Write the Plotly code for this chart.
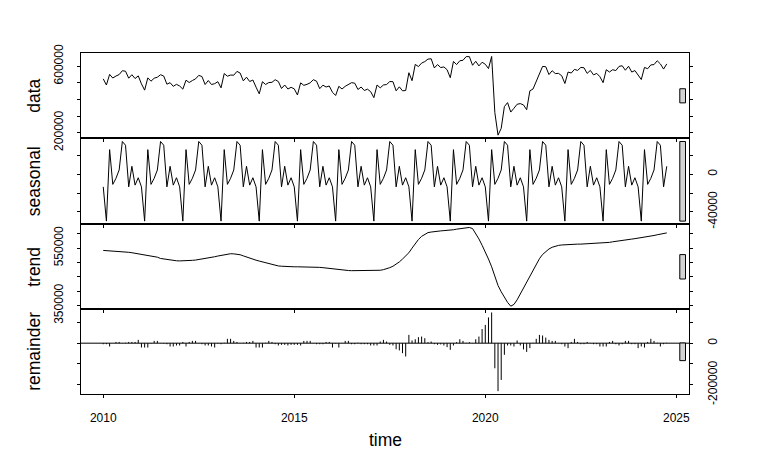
import numpy as np
import plotly.graph_objects as go
from plotly.subplots import make_subplots

# monthly series starting Jan 2010, values in thousands
start_year = 2010

data_k = [
    524, 487, 551, 529, 541, 550, 573, 570, 528, 549, 526, 542,
    494, 456, 530, 510, 528, 534, 549, 541, 492, 501, 479, 491,
    481, 462, 516, 502, 514, 524, 545, 538, 490, 514, 490, 495,
    507, 470, 556, 540, 547, 546, 569, 559, 512, 534, 508, 517,
    474, 434, 507, 490, 502, 503, 519, 508, 466, 487, 463, 473,
    464, 427, 500, 485, 491, 500, 519, 510, 465, 486, 475, 481,
    443, 424, 479, 463, 479, 488, 501, 498, 460, 475, 454, 462,
    447, 411, 487, 470, 487, 490, 508, 507, 452, 476, 452, 454,
    561, 513, 611, 598, 619, 628, 643, 645, 590, 610, 592, 596,
    579, 531, 629, 610, 633, 636, 658, 658, 606, 630, 602, 624,
    612, 586, 659, 321, 185, 226, 357, 381, 324, 347, 371, 375,
    367, 338, 452, 463, 511, 558, 599, 597, 550, 573, 556, 557,
    543, 496, 565, 559, 581, 575, 593, 591, 557, 575, 548, 557,
    537, 501, 579, 565, 579, 574, 599, 603, 576, 600, 565, 574,
    547, 520, 593, 585, 608, 610, 633, 614, 583, 614,
]

# periodic seasonal component, Jan..Dec
season_pattern_k = [-13.4, -50, 26.3, -10.8, -4.3, 4.6, 35, 31, -13.4, 8.5, -11.6, -3.7]

trend_k = [
    542, 541.5, 541, 540, 539.5, 539, 538, 537, 535.5, 534, 532, 530,
    528.5, 527, 525, 523, 521, 518.5, 514, 512, 510, 508.5, 507, 506,
    505.5, 505.5, 506, 506.5, 507.5, 508.5, 510, 512, 514, 516, 518, 520,
    522.5, 525, 527.5, 530, 530.5, 530, 529, 527, 523, 519, 514, 510,
    508, 505, 502, 498.5, 495, 492, 489.5, 488, 487, 486, 485.5, 485,
    485, 485, 485, 485, 484.5, 484, 484, 483.5, 483, 482, 480.5, 479,
    477, 475.5, 474, 473, 472, 472, 471.5, 471.5, 471, 471, 471, 471,
    471, 471.5, 472, 473, 475, 477.5, 482, 487, 494, 502, 512, 522,
    534, 550, 566, 580, 591, 599, 604, 606, 608, 609, 610, 611,
    611.5, 612.5, 614, 616, 618, 620, 621, 622, 618, 602, 582, 560,
    537, 512, 485, 453, 420, 398, 378, 361, 348, 354, 370, 390,
    410, 430, 450, 472, 494, 513, 528, 539, 547, 553, 557, 559.5,
    561, 562, 563, 563.5, 564, 564, 564, 564.5, 564.5, 565, 565, 565.5,
    566, 567, 568.5, 570, 572, 574, 575.5, 577, 578.5, 580, 581.5, 583,
    584.5, 586, 588, 589.5, 591.5, 594, 596.5, 599, 601, 603,
]

remainder_k = [
    -5, -5, -16, 0, 6, 6, 1, 2, 6, 6, 6, 16,
    -21, -21, -21, -2, 11, 11, 1, -2, -5, -16, -16, -11,
    -11, 6, -16, 6, 11, 11, 1, -5, -11, -11, -16, -21,
    -2, -5, 2, 21, 21, 11, 6, 1, 2, 6, 6, 11,
    -21, -21, -21, 2, 11, 6, -5, -11, -8, -8, -11, -8,
    -8, -8, -11, 11, 11, 11, 1, -5, -5, -5, 6, 6,
    -21, -2, -21, 1, 11, 11, -5, -5, 2, -5, -5, -5,
    -11, -11, -11, 8, 16, 8, -8, -11, -29, -35, -48, -64,
    40, 13, 19, 29, 32, 24, 5, 8, -5, -8, -6, -11,
    -19, -32, -11, 5, 19, 11, 2, 5, 1, 19, 32, 68,
    88, 124, 148, -121, -231, -177, -56, -11, -11, -16, 13, -11,
    -30, -42, -24, 2, 21, 40, 37, 27, 16, 11, 11, 1,
    -5, -16, -24, 6, 21, 6, -5, -5, 6, 1, -5, -5,
    -16, -16, -16, 6, 11, -5, -11, -5, 11, 11, -5, -5,
    -24, -16, -21, 6, 21, 11, 2, -16, -5, 2,
]

panel_names = ["data", "seasonal", "trend", "remainder"]
year_ticks = [2010, 2015, 2020, 2025]

data_ticks = [200000, 300000, 400000, 500000, 600000]
data_labels = ["200000", "", "", "", "600000"]
seasonal_ticks = [-40000, -20000, 0, 20000]
seasonal_labels = ["-40000", "", "0", ""]
trend_ticks = [350000, 400000, 450000, 500000, 550000, 600000]
trend_labels = ["350000", "", "", "", "550000", ""]
remainder_ticks = [-200000, -100000, 0, 100000]
remainder_labels = ["-200000", "", "0", ""]

n = len(data_k)
t = start_year + np.arange(n) / 12.0
data = np.array(data_k) * 1000
seasonal = np.resize(np.array(season_pattern_k), n) * 1000
trend = np.array(trend_k) * 1000
remainder = np.array(remainder_k) * 1000
series = [data, seasonal, trend, remainder]


def padded(v):
    lo, hi = float(np.min(v)), float(np.max(v))
    d = 0.04 * (hi - lo)
    return [lo - d, hi + d]


xr = padded(t)
H = 475.0
W = 770.0
# panel boxes in pixels (top, bottom)
panel_px = [(53.3, 138.3), (138.3, 224.3), (224.3, 309.3), (309.3, 394.3)]
x_dom = [80.7 / W, 689.3 / W]

fig = make_subplots(rows=4, cols=1, shared_xaxes=True, vertical_spacing=0)

fnt = dict(family="Liberation Sans, Arial, sans-serif", size=12, color="black")
title_fnt = dict(family="Liberation Sans, Arial, sans-serif", size=17.5, color="black")

# lines for data, seasonal, trend
for k in range(3):
    fig.add_trace(go.Scatter(x=t, y=series[k], mode="lines",
                             line=dict(color="black", width=1),
                             hoverinfo="skip", showlegend=False), row=k + 1, col=1)

# remainder as vertical spikes (type 'h')
seg_x = np.column_stack([t, t, np.full(n, np.nan)]).ravel()
seg_y = np.column_stack([np.zeros(n), remainder, np.full(n, np.nan)]).ravel()
fig.add_trace(go.Scatter(x=seg_x, y=seg_y, mode="lines",
                         line=dict(color="black", width=1),
                         hoverinfo="skip", showlegend=False), row=4, col=1)
fig.add_hline(y=0, row=4, col=1, line_color="black", line_width=1)

ticks_all = [(data_ticks, data_labels, "left"),
             (seasonal_ticks, seasonal_labels, "right"),
             (trend_ticks, trend_labels, "left"),
             (remainder_ticks, remainder_labels, "right")]

# range bars
mx = min(np.ptp(s) for s in series)
dx = (xr[1] - xr[0]) / 64.0

for k in range(4):
    row = k + 1
    top, bot = panel_px[k]
    yr = padded(series[k])
    tv, tt, side = ticks_all[k]
    fig.update_yaxes(row=row, col=1, domain=[1 - bot / H, 1 - top / H], range=yr,
                     tickvals=tv, ticktext=tt, side=side, tickangle=-90,
                     ticks="outside", ticklen=3, tickcolor="black",
                     showline=True, mirror="ticks", linecolor="black", linewidth=1,
                     showgrid=False, zeroline=False, tickfont=fnt,
                     ticklabelstandoff=9, automargin=False)
    fig.update_xaxes(row=row, col=1, domain=x_dom, range=xr, tickvals=year_ticks,
                     ticks="outside", ticklen=3, tickcolor="black",
                     showline=True, mirror=True, linecolor="black", linewidth=1,
                     showgrid=False, zeroline=False, tickfont=fnt,
                     showticklabels=(row == 4), ticklabelstandoff=9, automargin=False)
    yc = (np.min(series[k]) + np.max(series[k])) / 2.0
    yref = "y" if row == 1 else "y%d" % row
    xref = "x" if row == 1 else "x%d" % row
    fig.add_shape(type="rect", xref=xref, yref=yref,
                  x0=xr[1] - dx, x1=xr[1] - 0.4 * dx,
                  y0=yc - mx / 2, y1=yc + mx / 2,
                  fillcolor="#D3D3D3", line=dict(color="black", width=1), layer="above")
    fig.add_annotation(text=panel_names[k], xref="paper", yref="paper",
                       x=34 / W, y=1 - (top + bot) / 2 / H, textangle=-90,
                       showarrow=False, xanchor="center", yanchor="middle",
                       font=title_fnt)

fig.add_annotation(text="time", xref="paper", yref="paper",
                   x=(80.7 + 689.3) / 2 / W, y=1 - 440 / H,
                   showarrow=False, xanchor="center", yanchor="middle",
                   font=title_fnt)

fig.update_layout(width=770, height=475, margin=dict(l=0, r=0, t=0, b=0, pad=0),
                  paper_bgcolor="white", plot_bgcolor="white", showlegend=False)

fig.write_html("out.html", config={"displayModeBar": False},
               post_script="document.body.style.margin='0';")
